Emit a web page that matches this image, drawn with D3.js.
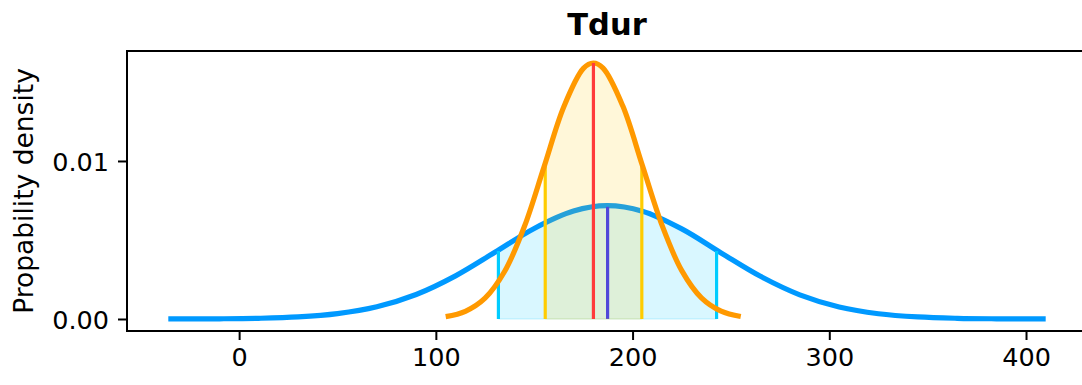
<!DOCTYPE html>
<html><head><meta charset="utf-8">
<script src="https://cdn.jsdelivr.net/npm/d3@7"></script>
<style>html,body{margin:0;padding:0;background:#fff;overflow:hidden}</style>
</head><body>
<svg id="c" width="1082" height="385"></svg>
<script>
// ---- data ----
const titleText = "Tdur";
const yLabelText = "Propability density";
const xTicks = [0, 100, 200, 300, 400];
const xTickLabels = ["0", "100", "200", "300", "400"];
const yTicks = [0, 0.01];
const yTickLabels = ["0.00", "0.01"];

// wide (blue) density curve
const blueX = [-36, -10, 10, 30, 50, 70, 90, 110, 130, 150, 170, 187, 205, 225, 245, 265, 285, 305, 325, 345, 365, 385, 410];
const blueY = [0.000002, 0.000013, 0.000044, 0.000131, 0.00034, 0.000774, 0.00155, 0.00273, 0.00422, 0.00573, 0.00683, 0.00717, 0.00682, 0.0057, 0.00418, 0.0027, 0.00153, 0.000763, 0.000334, 0.000128, 0.000043, 0.000013, 0.000002];
// narrow (orange) density curve
const orangeX = [105, 115, 125, 135, 145, 155, 165, 175, 180, 185, 195, 205, 215, 225, 235, 245, 255];
const orangeY = [0.000153, 0.000489, 0.00132, 0.00302, 0.00585, 0.00963, 0.01342, 0.01586, 0.0162, 0.01588, 0.01349, 0.00971, 0.00592, 0.00306, 0.00134, 0.000499, 0.000157];

const blueBand = [131.8, 242.7];
const blueBandTop = [0.0043, 0.0043];
const blueMedian = 187.3;
const blueMedianTop = 0.0071;
const orangeBand = [155.6, 204.7];
const orangeBandTop = [0.0097, 0.0097];
const orangeMedian = 180.1;
const orangeMedianTop = 0.0162;

// ---- drawing ----
const L = 127, R = 1087, T = 51, B = 331;
const svg = d3.select("#c");
const x = d3.scaleLinear().domain([-57, 431]).range([L, R]);
const y = d3.scaleLinear().domain([-0.00076, 0.01696]).range([B, T]);
const font = "'DejaVu Sans', sans-serif";

const defs = svg.append("defs");
defs.append("clipPath").attr("id", "plot").append("rect")
  .attr("x", L).attr("y", T).attr("width", R - L).attr("height", B - T);
defs.append("clipPath").attr("id", "bandBlue").append("rect")
  .attr("x", x(blueBand[0])).attr("y", T).attr("width", x(blueBand[1]) - x(blueBand[0])).attr("height", B - T);
defs.append("clipPath").attr("id", "bandOrange").append("rect")
  .attr("x", x(orangeBand[0])).attr("y", T).attr("width", x(orangeBand[1]) - x(orangeBand[0])).attr("height", B - T);

const blue = blueX.map((v, i) => [v, blueY[i]]);
const orange = orangeX.map((v, i) => [v, orangeY[i]]);
const line = d3.line().x(d => x(d[0])).y(d => y(d[1])).curve(d3.curveCatmullRom);
const area = d3.area().x(d => x(d[0])).y0(y(0)).y1(d => y(d[1])).curve(d3.curveCatmullRom);

const g = svg.append("g").attr("clip-path", "url(#plot)");

// blue band fill
g.append("g").attr("clip-path", "url(#bandBlue)").append("path").datum(blue)
  .attr("d", area).attr("fill", "#00ccff").attr("fill-opacity", 0.15)
  .attr("stroke", "#00ccff").attr("stroke-opacity", 0.15).attr("stroke-width", 1.5);
// blue curve
g.append("path").datum(blue).attr("d", line).attr("fill", "none")
  .attr("stroke", "#0099ff").attr("stroke-width", 5.2);
// blue band edges
blueBand.forEach((v, i) => {
  g.append("line").attr("x1", x(v)).attr("x2", x(v)).attr("y1", y(0)).attr("y2", y(blueBandTop[i]))
    .attr("stroke", "#00ccff").attr("stroke-width", 3.2);
});
g.append("line").attr("x1", x(blueMedian)).attr("x2", x(blueMedian)).attr("y1", y(0)).attr("y2", y(blueMedianTop))
  .attr("stroke", "#3333ff").attr("stroke-width", 3.2);

// orange band fill
g.append("g").attr("clip-path", "url(#bandOrange)").append("path").datum(orange)
  .attr("d", area).attr("fill", "#ffcc00").attr("fill-opacity", 0.15)
  .attr("stroke", "#ffcc00").attr("stroke-opacity", 0.15).attr("stroke-width", 1.5);
// orange band edges
orangeBand.forEach((v, i) => {
  g.append("line").attr("x1", x(v)).attr("x2", x(v)).attr("y1", y(0)).attr("y2", y(orangeBandTop[i]))
    .attr("stroke", "#ffcc00").attr("stroke-width", 3.2);
});
// orange curve
g.append("path").datum(orange).attr("d", line).attr("fill", "none")
  .attr("stroke", "#ff9900").attr("stroke-width", 5.2);
g.append("line").attr("x1", x(orangeMedian)).attr("x2", x(orangeMedian)).attr("y1", y(0)).attr("y2", y(orangeMedianTop))
  .attr("stroke", "#ff3b3b").attr("stroke-width", 3.2);

// axes
const xAxis = d3.axisBottom(x).tickValues(xTicks).tickFormat((d, i) => xTickLabels[i]).tickSize(9).tickPadding(8);
const yAxis = d3.axisLeft(y).tickValues(yTicks).tickFormat((d, i) => yTickLabels[i]).tickSize(9).tickPadding(9);
const gx = svg.append("g").attr("transform", `translate(0,${B})`).call(xAxis);
const gy = svg.append("g").attr("transform", `translate(${L},0)`).call(yAxis);
[gx, gy].forEach(a => {
  a.select(".domain").remove();
  a.selectAll(".tick line").attr("stroke", "#000").attr("stroke-width", 2);
  a.selectAll(".tick text").attr("fill", "#000").style("font-family", font).style("font-size", "25.5px");
});
gx.selectAll(".tick text").attr("dy", "0.71em");
gy.selectAll(".tick text").attr("dy", "0.36em");

// frame
svg.append("rect").attr("x", L).attr("y", T).attr("width", R - L).attr("height", B - T)
  .attr("fill", "none").attr("stroke", "#000").attr("stroke-width", 2);

// title
svg.append("text").attr("x", (L + R) / 2).attr("y", 35).attr("text-anchor", "middle")
  .style("font-family", font).style("font-size", "30.5px").style("font-weight", "bold").text(titleText);
// y label
svg.append("text").attr("transform", `translate(33,${(T + B) / 2}) rotate(-90)`).attr("text-anchor", "middle")
  .style("font-family", font).style("font-size", "26.5px").text(yLabelText);
</script>
</body></html>
